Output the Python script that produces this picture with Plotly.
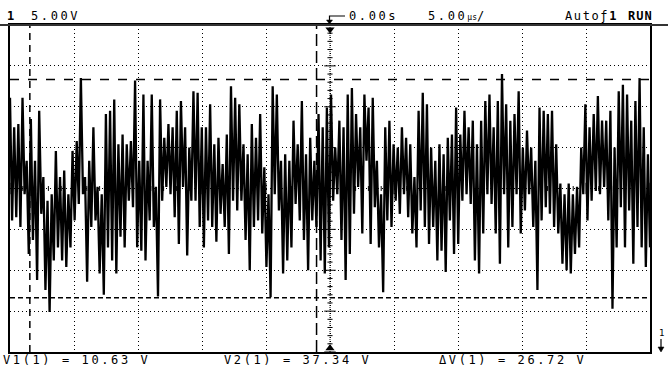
import numpy as np
import plotly.graph_objects as go

# ---------------- data ----------------
time_range_us = [-25.0, 25.0]      # 5.00 us/div, 10 div, trigger at centre
volt_range = [4.0, 44.0]           # 5.00 V/div, 8 div
grid_step_us = 5.0
grid_step_v = 5.0
center_v = 24.0
cursor_t_us = [-23.45, -1.05]
cursor_v = [10.63, 37.34]

# envelope of the noisy trace: per ~4 px column group, (high, low) in volts
trace_hi = [
    35.1, 31.5, 31.9, 35.1, 27.4, 32.5, 27.4, 33.5, 25.4, 22.5,
    23.3, 28.6, 25.4, 26.2, 23.3, 28.6, 29.8, 37.5, 25.4, 27.4,
    31.5, 24.2, 23.3, 33.1, 33.5, 34.9, 29.4, 30.6, 29.4, 29.8,
    37.2, 27.4, 35.5, 27.4, 35.5, 24.2, 34.9, 30.2, 31.9, 31.5,
    33.5, 34.7, 31.5, 29.0, 35.9, 35.7, 31.5, 31.5, 34.3, 29.4,
    30.2, 27.0, 30.6, 36.5, 35.1, 34.3, 29.4, 28.2, 31.9, 30.2,
    33.1, 26.6, 23.3, 36.5, 35.5, 27.4, 28.2, 27.4, 32.3, 29.4,
    34.7, 28.2, 30.2, 27.4, 33.1, 31.5, 33.9,
    35.5, 29.0, 32.3, 31.5, 35.5, 36.3, 33.1, 31.5, 35.5, 33.9,
    35.1, 27.4, 23.3, 31.5, 32.3, 29.4, 29.0, 31.5, 30.2, 29.4,
    25.4, 33.5, 35.7, 34.3, 29.0, 27.4, 29.4, 28.2, 30.2, 30.6,
    33.9, 30.6, 33.5, 31.5, 32.3, 29.4, 32.3, 34.7, 35.5, 31.5,
    34.7, 38.0, 34.3, 32.3, 33.1, 35.9, 29.0, 31.1, 29.0, 27.4,
    33.9, 33.5, 33.1, 33.5, 29.4, 24.6, 23.3, 24.6, 23.3, 24.2,
    29.0, 34.3, 31.5, 33.1, 35.3, 32.3, 32.3, 33.5, 29.0, 35.9,
    36.7, 35.5, 32.3, 34.7, 37.5, 31.5, 28.2]
trace_lo = [
    20.1, 20.5, 19.3, 23.3, 16.0, 17.7, 12.8, 20.9, 11.6, 8.9,
    15.2, 16.8, 15.2, 14.4, 16.8, 20.1, 22.1, 23.3, 12.6, 19.3,
    20.1, 13.6, 11.0, 16.8, 15.2, 13.6, 18.1, 16.8, 22.5, 21.7,
    16.8, 16.4, 15.2, 20.1, 19.3, 10.8, 22.5, 24.2, 23.3, 20.5,
    17.2, 24.2, 15.8, 22.5, 22.5, 19.3, 16.8, 20.1, 19.3, 17.5,
    20.9, 19.3, 16.0, 22.5, 21.3, 22.5, 17.7, 14.0, 19.3, 20.1,
    18.5, 14.4, 10.7, 23.3, 21.3, 13.6, 15.2, 16.8, 22.1, 20.1,
    17.7, 14.0, 20.1, 19.3, 15.2, 13.6, 16.8,
    22.5, 23.3, 17.7, 12.8, 16.0, 20.9, 24.2, 18.5, 27.4, 17.2,
    21.7, 16.8, 11.3, 20.1, 19.3, 22.5, 20.9, 23.3, 20.5, 18.5,
    16.8, 21.3, 19.3, 17.2, 19.3, 15.2, 16.4, 13.8, 20.1, 16.0,
    17.2, 22.5, 23.3, 22.1, 15.2, 13.6, 18.5, 23.3, 22.1, 18.5,
    14.8, 23.3, 16.8, 19.3, 23.3, 18.5, 21.3, 23.3, 19.3, 11.6,
    20.1, 21.7, 20.9, 19.3, 18.5, 14.8, 14.0, 13.6, 16.0, 16.8,
    23.3, 20.1, 22.5, 23.7, 23.3, 24.2, 20.1, 9.3, 16.8, 21.7,
    16.8, 21.3, 14.8, 19.3, 16.8, 14.4, 16.8]

ch_label = "1"
ch_scale = "5.00V"
time_ref = "0.00s"
time_scale = "5.00"
trig_mode = "Auto\u0192"
run_state = "RUN"
readouts = ["V1(1) = 10.63 V", "V2(1) = 37.34 V", "\u0394V(1) = 26.72 V"]

# ---------------- geometry ----------------
W, H = 668, 369
ML, MR, MT, MB = 10, 18, 25, 17
PW, PH = W - ML - MR, H - MT - MB


def px(xpix):
    return (xpix - ML) / PW


def py(ypix):
    return (H - MB - ypix) / PH


FONT = "DejaVu Sans Mono"

volts = []
for h, l in zip(trace_hi, trace_lo):
    volts += [h, l]
t = np.linspace(time_range_us[0], time_range_us[1], len(volts))

fig = go.Figure()
fig.add_trace(go.Scatter(x=t, y=volts, mode="lines",
                         line=dict(color="black", width=2.3),
                         hoverinfo="skip", showlegend=False))

# centre graticule ticks
tx, ty = [], []
dx_minor, dx_major = 0.2, 0.45
for v in np.arange(volt_range[0], volt_range[1] + 1e-9, 1.0):
    major = abs((v - volt_range[0]) % grid_step_v) < 1e-6
    d = dx_major if major else dx_minor
    tx += [-d, d, None]
    ty += [v, v, None]
dv_minor, dv_major = 0.3, 0.7
for s in np.arange(time_range_us[0], time_range_us[1] + 1e-9, 1.0):
    major = abs(s % grid_step_us) < 1e-6
    d = dv_major if major else dv_minor
    tx += [s, s, None]
    ty += [center_v - d, center_v + d, None]
fig.add_trace(go.Scatter(x=tx, y=ty, mode="lines",
                         line=dict(color="black", width=1),
                         hoverinfo="skip", showlegend=False))

# trigger markers
fig.add_trace(go.Scatter(x=[0, 0], y=[volt_range[1] - 0.55, volt_range[0] + 0.45],
                         mode="markers",
                         marker=dict(symbol=["triangle-down", "triangle-up"],
                                     size=8, color="black"),
                         cliponaxis=False, hoverinfo="skip", showlegend=False))

shapes = []
shapes.append(dict(type="line", xref="x", yref="paper", x0=0, x1=0, y0=0, y1=1,
                   line=dict(color="black", width=1, dash="1px,1px")))
shapes.append(dict(type="line", xref="x", yref="paper", x0=cursor_t_us[0], x1=cursor_t_us[0],
                   y0=0, y1=1, line=dict(color="black", width=1.5, dash="7px,5px")))
shapes.append(dict(type="line", xref="x", yref="paper", x0=cursor_t_us[1], x1=cursor_t_us[1],
                   y0=0, y1=1, line=dict(color="black", width=1.5, dash="12px,5px")))
shapes.append(dict(type="line", xref="paper", yref="y", x0=0, x1=1, y0=cursor_v[0], y1=cursor_v[0],
                   line=dict(color="black", width=1.5, dash="5px,3px")))
shapes.append(dict(type="line", xref="paper", yref="y", x0=0, x1=1, y0=cursor_v[1], y1=cursor_v[1],
                   line=dict(color="black", width=1.5, dash="9px,9px")))
shapes.append(dict(type="line", xref="paper", yref="paper", x0=px(0), x1=px(W), y0=1, y1=1,
                   line=dict(color="#333", width=2)))
shapes.append(dict(type="path", xref="paper", yref="paper",
                   path=f"M {px(345)},{py(16)} L {px(329.5)},{py(16)} L {px(329.5)},{py(22)}",
                   line=dict(color="black", width=1.2)))
shapes.append(dict(type="path", xref="paper", yref="paper", fillcolor="black",
                   path=f"M {px(326.5)},{py(20)} L {px(332.5)},{py(20)} L {px(329.5)},{py(24)} Z",
                   line=dict(color="black", width=0.5)))
shapes.append(dict(type="line", xref="paper", yref="paper", x0=px(661), x1=px(661),
                   y0=py(339), y1=py(349), line=dict(color="black", width=1.2)))
shapes.append(dict(type="path", xref="paper", yref="paper", fillcolor="black",
                   path=f"M {px(658)},{py(347)} L {px(664)},{py(347)} L {px(661)},{py(352)} Z",
                   line=dict(color="black", width=0.5)))

ann = []


def text(x, y, s, size=12, bold=False, sp=2.6):
    body = f"<span style='letter-spacing:{sp}px'>{s}</span>"
    if bold:
        body = f"<b>{body}</b>"
    ann.append(dict(xref="paper", yref="paper", x=px(x), y=py(y), text=body,
                    showarrow=False, xanchor="left", yanchor="middle",
                    font=dict(family=FONT, size=size, color="black")))


text(5, 16, ch_label, bold=True, size=12)
text(29, 16, ch_scale)
text(347, 16, time_ref)
ann.append(dict(xref="paper", yref="paper", x=px(426), y=py(16),
                text=f"<span style='letter-spacing:2.6px'>{time_scale}</span>"
                     f"<span style='font-size:8px'>\u00b5s</span>/",
                showarrow=False, xanchor="left", yanchor="middle",
                font=dict(family=FONT, size=12, color="black")))
ann.append(dict(xref="paper", yref="paper", x=px(563), y=py(16),
                text=f"<span style='letter-spacing:1.6px'>{trig_mode}</span><b>{ch_label}</b>",
                showarrow=False, xanchor="left", yanchor="middle",
                font=dict(family=FONT, size=12, color="black")))
text(626, 16, run_state, bold=True, sp=1.0)
text(1, 359.5, readouts[0])
text(222, 359.5, readouts[1])
text(437, 359.5, readouts[2])
ann.append(dict(xref="paper", yref="paper", x=px(661), y=py(333), text=ch_label,
                showarrow=False, xanchor="center", yanchor="middle",
                font=dict(family=FONT, size=9, color="black")))

axis_common = dict(showticklabels=False, ticks="", zeroline=False, showline=True,
                   linecolor="black", linewidth=2, mirror=True, showgrid=True,
                   gridcolor="black", gridwidth=1, griddash="1px,3px", fixedrange=True)
fig.update_layout(
    width=W, height=H, margin=dict(l=ML, r=MR, t=MT, b=MB, pad=0),
    paper_bgcolor="white", plot_bgcolor="white", showlegend=False,
    xaxis=dict(range=time_range_us, tick0=0, dtick=grid_step_us, **axis_common),
    yaxis=dict(range=volt_range, tick0=volt_range[0], dtick=grid_step_v, **axis_common),
    shapes=shapes, annotations=ann,
)
fig.write_html("out.html", config={"displayModeBar": False, "staticPlot": True},
               post_script="document.body.style.margin='0px';document.body.style.overflow='hidden';")
